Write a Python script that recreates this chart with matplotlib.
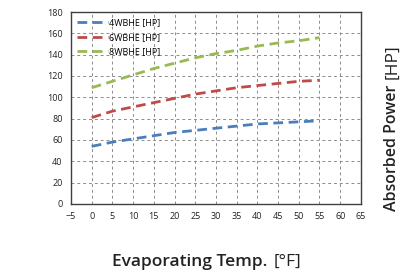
import matplotlib
matplotlib.use("Agg")
import matplotlib.pyplot as plt

temps = [0, 5, 10, 15, 20, 25, 30, 35, 40, 45, 50, 55]
hp_4wbhe = [54, 58, 61, 64, 67, 69, 71, 73, 75, 76, 77, 78]
hp_6wbhe = [81, 87, 91, 95, 99, 103, 106, 109, 111, 113, 115, 116]
hp_8wbhe = [109, 115, 121, 127, 132, 137, 141, 144, 148, 151, 153, 156]

series = [
    ("4WBHE [HP]", hp_4wbhe, "#4a7ebb"),
    ("6WBHE [HP]", hp_6wbhe, "#be4b48"),
    ("8WBHE [HP]", hp_8wbhe, "#98b954"),
]

plt.rcParams['font.family'] = ['Open Sans', 'DejaVu Sans']

fig = plt.figure(figsize=(4.01, 2.73), dpi=100)
ax = fig.add_axes([0.177, 0.253, 0.723, 0.703])

for name, vals, col in series:
    ax.plot(temps, vals, color=col, lw=2.0, dashes=(3.5, 2), label=name)

ax.set_xlim(-5, 65)
ax.set_ylim(0, 180)
ax.set_xticks(range(-5, 70, 5))
ax.set_yticks(range(0, 200, 20))
ax.tick_params(labelsize=6.5, length=0, colors="#222222", pad=6)
ax.grid(True, color="#8c8c8c", ls=(0, (3, 3)), lw=0.7)
for s in ax.spines.values():
    s.set_color("#404040")
    s.set_linewidth(1.0)

ax.legend(loc="upper left", frameon=False, fontsize=6.5, handlelength=3.4,
          handletextpad=0.1, labelspacing=0.6, borderaxespad=0.3)

# axis titles: main part semibold, unit part regular
fig.text(0.667, 0.04, "Evaporating Temp.", ha="right", va="center",
         fontsize=12.5, color="#222222", weight="semibold")
fig.text(0.682, 0.04, "[°F]", ha="left", va="center",
         fontsize=12.5, color="#222222")
fig.text(0.978, 0.69, "Absorbed Power", ha="center", va="top",
         rotation=90, fontsize=11.5, color="#222222", weight="semibold")
fig.text(0.978, 0.71, "[HP]", ha="center", va="bottom",
         rotation=90, fontsize=12.5, color="#222222")

fig.savefig("out.png", dpi=100)
